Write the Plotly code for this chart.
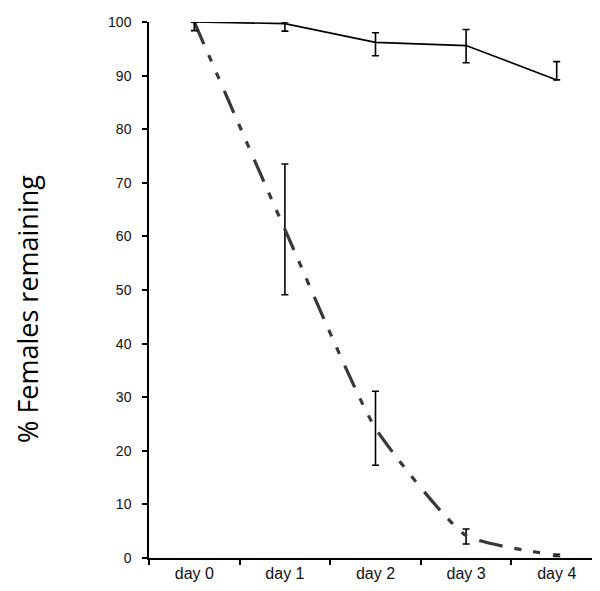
import plotly.graph_objects as go

days = ["day 0", "day 1", "day 2", "day 3", "day 4"]

control_vals = [100.0, 99.7, 96.2, 95.6, 89.2]
control_err_plus = [0.0, 0.3, 1.8, 3.0, 3.4]
control_err_minus = [1.6, 1.4, 2.5, 3.2, 0.0]

treated_vals = [100.0, 61.3, 24.2, 4.2, 0.5]
treated_err_plus = [0.0, 12.2, 6.9, 1.2, 0.2]
treated_err_minus = [0.0, 12.2, 6.9, 1.6, 0.2]

y_ticks = list(range(0, 101, 10))

fig = go.Figure()

fig.add_trace(go.Scatter(
    x=days, y=treated_vals, mode="lines",
    line=dict(color="#383838", width=3.2, shape="spline", smoothing=0.5,
              dash="24px,12px,7px,12px,7px,13px"),
    error_y=dict(type="data", symmetric=False, array=treated_err_plus,
                 arrayminus=treated_err_minus, color="black", thickness=1.6, width=3.5),
    showlegend=False, cliponaxis=False,
))

fig.add_trace(go.Scatter(
    x=days, y=control_vals, mode="lines",
    line=dict(color="black", width=1.6),
    error_y=dict(type="data", symmetric=False, array=control_err_plus,
                 arrayminus=control_err_minus, color="black", thickness=1.6, width=3.5),
    showlegend=False, cliponaxis=False,
))

fig.update_layout(
    width=600, height=591,
    margin=dict(l=141, r=6, t=12, b=41),
    plot_bgcolor="white", paper_bgcolor="white",
    xaxis=dict(
        type="category", tickson="boundaries", ticks="outside", ticklen=5,
        tickcolor="black", tickwidth=1.5, showline=True, linecolor="black", linewidth=1.5,
        showgrid=False, zeroline=False, range=[-0.5, 4.5],
        tickfont=dict(family="Liberation Sans, Arial", size=16, color="#111"),
    ),
    yaxis=dict(
        range=[0, 100], tickvals=y_ticks, ticks="outside", ticklen=5,
        tickcolor="black", tickwidth=1.5, showline=True, linecolor="black", linewidth=1.5,
        showgrid=False, zeroline=False, ticklabelstandoff=8,
        tickfont=dict(family="Liberation Sans, Arial", size=14, color="#111"),
    ),
    annotations=[dict(
        text="% Females remaining", textangle=-90, showarrow=False,
        xref="paper", yref="paper", x=(20 - 141) / 453, y=(550 - 300) / 538,
        xanchor="center", yanchor="middle",
        font=dict(family="Open Sans", size=27, color="black"),
    )],
)

fig.write_html("out.html")
